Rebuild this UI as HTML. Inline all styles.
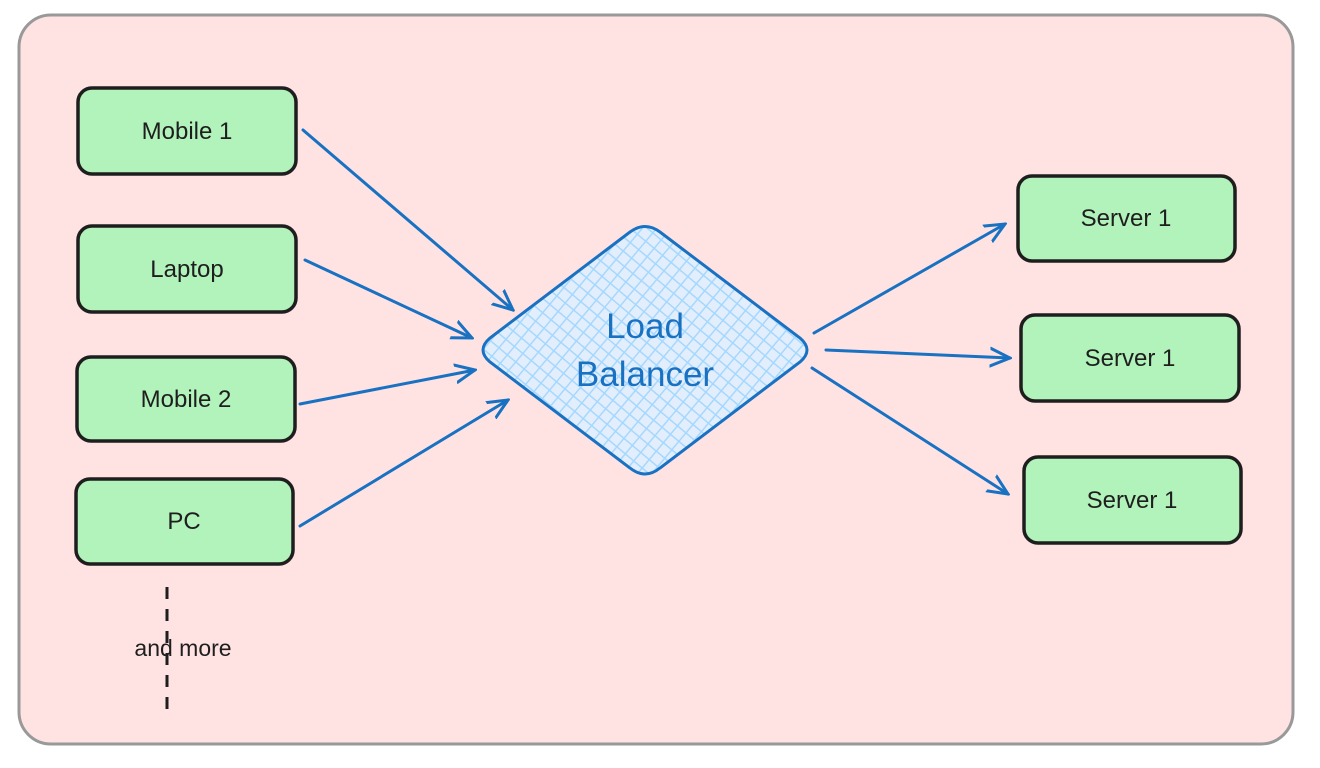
<!DOCTYPE html>
<html><head><meta charset="utf-8"><style>
html,body{margin:0;padding:0;background:#fff;}
svg{display:block;}
text{font-family:"Liberation Sans",sans-serif;}
</style></head><body>
<svg width="1320" height="768" viewBox="0 0 1320 768" xmlns="http://www.w3.org/2000/svg">
<defs>
<marker id="ah" viewBox="0 0 22 22" refX="20" refY="11" markerWidth="22" markerHeight="22" markerUnits="userSpaceOnUse" orient="auto">
<path d="M0,2 L20,11 L0,20" fill="none" stroke="#1971c2" stroke-width="3" stroke-linecap="round"/>
</marker>
<pattern id="hatch" width="11" height="11" patternUnits="userSpaceOnUse" patternTransform="rotate(40)">
<rect width="11" height="11" fill="#e3eefc"/>
<path d="M0,0 L0,11 M0,0 L11,0" stroke="#a5d8ff" stroke-width="3"/>
</pattern>
</defs>
<rect x="19" y="15" width="1274" height="729" rx="32" fill="#ffe3e3" stroke="#999" stroke-width="3"/>
<g fill="#b2f2bb" stroke="#1e1e1e" stroke-width="3.5">
<rect x="78" y="88" width="218" height="86" rx="14"/>
<rect x="78" y="226" width="218" height="86" rx="14"/>
<rect x="77" y="357" width="218" height="84" rx="14"/>
<rect x="76" y="479" width="217" height="85" rx="14"/>
<rect x="1018" y="176" width="217" height="85" rx="14"/>
<rect x="1021" y="315" width="218" height="86" rx="14"/>
<rect x="1024" y="457" width="217" height="86" rx="14"/>
</g>
<g font-size="24" fill="#1e1e1e" text-anchor="middle">
<text x="187" y="139">Mobile 1</text>
<text x="187" y="277">Laptop</text>
<text x="186" y="407">Mobile 2</text>
<text x="184" y="529">PC</text>
<text x="1126" y="226">Server 1</text>
<text x="1130" y="366">Server 1</text>
<text x="1132" y="508">Server 1</text>
<text x="183" y="656" font-size="23">and more</text>
</g>
<path d="M630,232 Q645,221 660,232 L800,338 Q814,350 800,362 L660,468 Q645,480 630,468 L490,362 Q476,350 490,338 Z" fill="url(#hatch)" stroke="#1971c2" stroke-width="3"/>
<g font-size="35" fill="#1971c2" text-anchor="middle">
<text x="645" y="338">Load</text>
<text x="645" y="386">Balancer</text>
</g>
<g stroke="#1971c2" stroke-width="3" fill="none" marker-end="url(#ah)" stroke-linecap="round">
<line x1="303" y1="130" x2="513" y2="310"/>
<line x1="305" y1="260" x2="472" y2="338"/>
<line x1="300" y1="404" x2="475" y2="370"/>
<line x1="300" y1="526" x2="508" y2="400"/>
<line x1="814" y1="333" x2="1005" y2="224"/>
<line x1="826" y1="350" x2="1010" y2="358"/>
<line x1="812" y1="368" x2="1008" y2="494"/>
</g>
<line x1="167" y1="587" x2="167" y2="715" stroke="#1e1e1e" stroke-width="3" stroke-dasharray="12,10"/>
</svg>
</body></html>
